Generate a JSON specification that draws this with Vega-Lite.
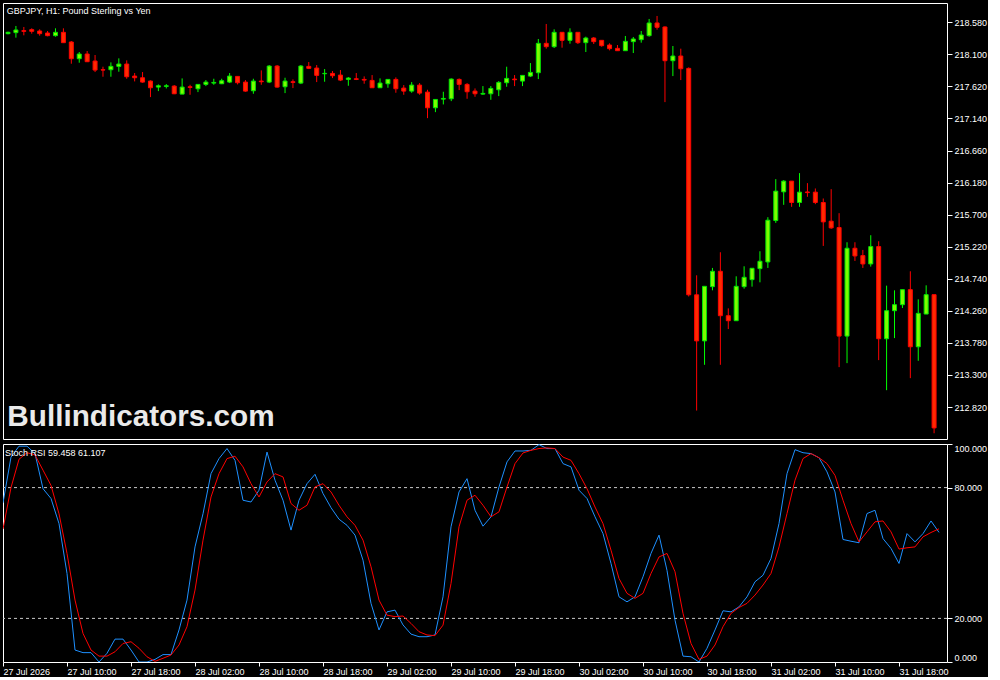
{
  "$schema": "https://vega.github.io/schema/vega-lite/v6.json",
  "background": "#000000",
  "padding": {"left": 2, "top": 2, "right": 0, "bottom": 0},
  "config": {
    "view": {"stroke": "#ffffff", "strokeWidth": 1, "fill": "#000000"},
    "concat": {"spacing": 3},
    "axis": {"labelFont": "Liberation Sans", "labelFontSize": 9, "labelColor": "#ffffff", "tickColor": "#ffffff", "domain": false, "grid": false, "title": null, "labelOverlap": false},
    "axisY": {"labelOverlap": false, "labelBound": false}
  },
  "datasets": {
    "bars": [
      {"t":"2026-07-27T02:00","o":218.41,"h":218.44,"l":218.40,"c":218.43,"k":73,"d":61},
      {"t":"2026-07-27T03:00","o":218.425,"h":218.525,"l":218.35,"c":218.465,"k":94,"d":80},
      {"t":"2026-07-27T04:00","o":218.455,"h":218.51,"l":218.385,"c":218.445,"k":99,"d":93},
      {"t":"2026-07-27T05:00","o":218.47,"h":218.49,"l":218.41,"c":218.445,"k":99,"d":96},
      {"t":"2026-07-27T06:00","o":218.45,"h":218.475,"l":218.38,"c":218.41,"k":95.6,"d":95},
      {"t":"2026-07-27T07:00","o":218.42,"h":218.45,"l":218.37,"c":218.38,"k":79.5,"d":88},
      {"t":"2026-07-27T08:00","o":218.38,"h":218.49,"l":218.365,"c":218.43,"k":75,"d":81},
      {"t":"2026-07-27T09:00","o":218.43,"h":218.49,"l":218.275,"c":218.275,"k":63.5,"d":68},
      {"t":"2026-07-27T10:00","o":218.285,"h":218.30,"l":217.96,"c":218.035,"k":40.6,"d":49.8},
      {"t":"2026-07-27T11:00","o":218.035,"h":218.135,"l":217.975,"c":218.105,"k":5.5,"d":28.4},
      {"t":"2026-07-27T12:00","o":218.105,"h":218.15,"l":217.985,"c":217.99,"k":4.3,"d":13.1},
      {"t":"2026-07-27T13:00","o":218.00,"h":218.09,"l":217.835,"c":217.865,"k":4.3,"d":5.5},
      {"t":"2026-07-27T14:00","o":217.87,"h":217.915,"l":217.765,"c":217.865,"k":0,"d":2.7},
      {"t":"2026-07-27T15:00","o":217.87,"h":217.98,"l":217.765,"c":217.92,"k":4,"d":2.7},
      {"t":"2026-07-27T16:00","o":217.92,"h":218.04,"l":217.84,"c":217.955,"k":10.5,"d":4.7},
      {"t":"2026-07-27T17:00","o":217.955,"h":218.01,"l":217.735,"c":217.765,"k":10.5,"d":8.5},
      {"t":"2026-07-27T18:00","o":217.775,"h":217.82,"l":217.695,"c":217.75,"k":5.5,"d":9.3},
      {"t":"2026-07-27T19:00","o":217.75,"h":217.835,"l":217.675,"c":217.685,"k":0,"d":6.3},
      {"t":"2026-07-27T20:00","o":217.70,"h":217.71,"l":217.46,"c":217.60,"k":0,"d":2.4},
      {"t":"2026-07-27T21:00","o":217.61,"h":217.65,"l":217.55,"c":217.63,"k":1.2,"d":0.3},
      {"t":"2026-07-27T22:00","o":217.62,"h":217.655,"l":217.59,"c":217.63,"k":3.4,"d":1.7},
      {"t":"2026-07-27T23:00","o":217.625,"h":217.64,"l":217.505,"c":217.51,"k":3.4,"d":3.2},
      {"t":"2026-07-28T00:00","o":217.505,"h":217.74,"l":217.505,"c":217.61,"k":14.7,"d":7.8},
      {"t":"2026-07-28T01:00","o":217.615,"h":217.645,"l":217.495,"c":217.605,"k":28.4,"d":16.2},
      {"t":"2026-07-28T02:00","o":217.585,"h":217.65,"l":217.535,"c":217.65,"k":52.8,"d":33},
      {"t":"2026-07-28T03:00","o":217.65,"h":217.715,"l":217.625,"c":217.685,"k":68,"d":55.9},
      {"t":"2026-07-28T04:00","o":217.67,"h":217.735,"l":217.645,"c":217.68,"k":86.4,"d":75.7},
      {"t":"2026-07-28T05:00","o":217.66,"h":217.735,"l":217.655,"c":217.705,"k":93.3,"d":86.4},
      {"t":"2026-07-28T06:00","o":217.685,"h":217.82,"l":217.67,"c":217.775,"k":97.9,"d":93.3},
      {"t":"2026-07-28T07:00","o":217.77,"h":217.77,"l":217.65,"c":217.675,"k":92.5,"d":94.4},
      {"t":"2026-07-28T08:00","o":217.685,"h":217.715,"l":217.54,"c":217.55,"k":74.2,"d":89.5},
      {"t":"2026-07-28T09:00","o":217.555,"h":217.735,"l":217.51,"c":217.70,"k":73.4,"d":81.8},
      {"t":"2026-07-28T10:00","o":217.70,"h":217.86,"l":217.645,"c":217.69,"k":78.8,"d":75.7},
      {"t":"2026-07-28T11:00","o":217.685,"h":217.94,"l":217.67,"c":217.925,"k":96.3,"d":82.6},
      {"t":"2026-07-28T12:00","o":217.925,"h":217.94,"l":217.60,"c":217.61,"k":83.4,"d":86.4},
      {"t":"2026-07-28T13:00","o":217.615,"h":217.75,"l":217.52,"c":217.70,"k":74.2,"d":84.9},
      {"t":"2026-07-28T14:00","o":217.69,"h":217.725,"l":217.595,"c":217.68,"k":60.5,"d":72.7},
      {"t":"2026-07-28T15:00","o":217.67,"h":217.94,"l":217.655,"c":217.925,"k":74.2,"d":69.6},
      {"t":"2026-07-28T16:00","o":217.92,"h":217.985,"l":217.88,"c":217.89,"k":81.8,"d":71.9},
      {"t":"2026-07-28T17:00","o":217.895,"h":217.94,"l":217.685,"c":217.785,"k":86.1,"d":80.3},
      {"t":"2026-07-28T18:00","o":217.81,"h":217.88,"l":217.69,"c":217.815,"k":77.3,"d":81.8},
      {"t":"2026-07-28T19:00","o":217.815,"h":217.85,"l":217.745,"c":217.78,"k":70.8,"d":78},
      {"t":"2026-07-28T20:00","o":217.79,"h":217.865,"l":217.70,"c":217.715,"k":65.5,"d":71.9},
      {"t":"2026-07-28T21:00","o":217.725,"h":217.76,"l":217.63,"c":217.745,"k":62.7,"d":66.6},
      {"t":"2026-07-28T22:00","o":217.735,"h":217.82,"l":217.715,"c":217.725,"k":58.2,"d":62.7},
      {"t":"2026-07-28T23:00","o":217.725,"h":217.77,"l":217.66,"c":217.715,"k":46.7,"d":55.9},
      {"t":"2026-07-29T00:00","o":217.71,"h":217.79,"l":217.60,"c":217.60,"k":26.9,"d":43.7},
      {"t":"2026-07-29T01:00","o":217.60,"h":217.74,"l":217.60,"c":217.67,"k":14.7,"d":28.4},
      {"t":"2026-07-29T02:00","o":217.66,"h":217.725,"l":217.60,"c":217.725,"k":23,"d":21.5},
      {"t":"2026-07-29T03:00","o":217.725,"h":217.755,"l":217.525,"c":217.585,"k":23.8,"d":20.8},
      {"t":"2026-07-29T04:00","o":217.595,"h":217.64,"l":217.495,"c":217.55,"k":17,"d":21.1},
      {"t":"2026-07-29T05:00","o":217.55,"h":217.685,"l":217.525,"c":217.64,"k":12.8,"d":17.7},
      {"t":"2026-07-29T06:00","o":217.64,"h":217.67,"l":217.495,"c":217.52,"k":11.6,"d":13.9},
      {"t":"2026-07-29T07:00","o":217.535,"h":217.57,"l":217.145,"c":217.30,"k":11.6,"d":12.4},
      {"t":"2026-07-29T08:00","o":217.30,"h":217.425,"l":217.235,"c":217.425,"k":12.4,"d":12.1},
      {"t":"2026-07-29T09:00","o":217.43,"h":217.54,"l":217.35,"c":217.44,"k":29.9,"d":16.9},
      {"t":"2026-07-29T10:00","o":217.435,"h":217.74,"l":217.40,"c":217.73,"k":62,"d":36},
      {"t":"2026-07-29T11:00","o":217.725,"h":217.74,"l":217.565,"c":217.65,"k":78,"d":62},
      {"t":"2026-07-29T12:00","o":217.65,"h":217.67,"l":217.435,"c":217.54,"k":84.1,"d":74.2},
      {"t":"2026-07-29T13:00","o":217.55,"h":217.59,"l":217.465,"c":217.51,"k":69.6,"d":76.5},
      {"t":"2026-07-29T14:00","o":217.505,"h":217.625,"l":217.495,"c":217.515,"k":62.3,"d":71.9},
      {"t":"2026-07-29T15:00","o":217.51,"h":217.625,"l":217.42,"c":217.59,"k":66.6,"d":66.6},
      {"t":"2026-07-29T16:00","o":217.57,"h":217.70,"l":217.475,"c":217.68,"k":80.3,"d":68.9},
      {"t":"2026-07-29T17:00","o":217.675,"h":217.915,"l":217.615,"c":217.74,"k":91.8,"d":80.3},
      {"t":"2026-07-29T18:00","o":217.73,"h":217.79,"l":217.625,"c":217.72,"k":96.8,"d":91},
      {"t":"2026-07-29T19:00","o":217.70,"h":217.785,"l":217.625,"c":217.785,"k":96.8,"d":95.9},
      {"t":"2026-07-29T20:00","o":217.775,"h":217.97,"l":217.76,"c":217.83,"k":97.1,"d":97.1},
      {"t":"2026-07-29T21:00","o":217.825,"h":218.33,"l":217.73,"c":218.265,"k":99.7,"d":97.9},
      {"t":"2026-07-29T22:00","o":218.265,"h":218.555,"l":218.185,"c":218.215,"k":97.9,"d":98.2},
      {"t":"2026-07-29T23:00","o":218.215,"h":218.475,"l":218.195,"c":218.43,"k":97.9,"d":97.9},
      {"t":"2026-07-30T00:00","o":218.43,"h":218.43,"l":218.20,"c":218.31,"k":91,"d":94},
      {"t":"2026-07-30T01:00","o":218.31,"h":218.49,"l":218.26,"c":218.43,"k":89.5,"d":92.5},
      {"t":"2026-07-30T02:00","o":218.43,"h":218.43,"l":218.255,"c":218.275,"k":78.8,"d":86.4},
      {"t":"2026-07-30T03:00","o":218.275,"h":218.365,"l":218.135,"c":218.345,"k":75,"d":79.5},
      {"t":"2026-07-30T04:00","o":218.345,"h":218.36,"l":218.255,"c":218.29,"k":66.6,"d":71.1},
      {"t":"2026-07-30T05:00","o":218.31,"h":218.31,"l":218.215,"c":218.23,"k":58.9,"d":63.5},
      {"t":"2026-07-30T06:00","o":218.24,"h":218.265,"l":218.16,"c":218.185,"k":45.2,"d":51.3},
      {"t":"2026-07-30T07:00","o":218.19,"h":218.24,"l":218.155,"c":218.155,"k":29.9,"d":38.3},
      {"t":"2026-07-30T08:00","o":218.155,"h":218.375,"l":218.155,"c":218.295,"k":27.6,"d":31.5},
      {"t":"2026-07-30T09:00","o":218.29,"h":218.36,"l":218.12,"c":218.33,"k":29.9,"d":29.2},
      {"t":"2026-07-30T10:00","o":218.32,"h":218.45,"l":218.275,"c":218.39,"k":39.1,"d":31.5},
      {"t":"2026-07-30T11:00","o":218.38,"h":218.63,"l":218.365,"c":218.57,"k":49.8,"d":40.6},
      {"t":"2026-07-30T12:00","o":218.57,"h":218.675,"l":218.47,"c":218.505,"k":58.2,"d":48.2},
      {"t":"2026-07-30T13:00","o":218.51,"h":218.52,"l":217.385,"c":218.005,"k":42,"d":49.8},
      {"t":"2026-07-30T14:00","o":218.005,"h":218.225,"l":217.775,"c":218.075,"k":19.2,"d":41.4},
      {"t":"2026-07-30T15:00","o":218.075,"h":218.185,"l":217.715,"c":217.885,"k":2.7,"d":22.3},
      {"t":"2026-07-30T16:00","o":217.89,"h":217.905,"l":214.475,"c":214.50,"k":2.4,"d":8.5},
      {"t":"2026-07-30T17:00","o":214.50,"h":214.792,"l":212.767,"c":213.81,"k":0,"d":1.2},
      {"t":"2026-07-30T18:00","o":213.81,"h":214.627,"l":213.452,"c":214.627,"k":6.3,"d":2.7},
      {"t":"2026-07-30T19:00","o":214.622,"h":214.902,"l":214.567,"c":214.852,"k":14.7,"d":7.8},
      {"t":"2026-07-30T20:00","o":214.852,"h":215.137,"l":213.452,"c":214.187,"k":23.5,"d":16.2},
      {"t":"2026-07-30T21:00","o":214.187,"h":214.297,"l":213.987,"c":214.112,"k":23,"d":22.3},
      {"t":"2026-07-30T22:00","o":214.112,"h":214.777,"l":214.112,"c":214.627,"k":25.3,"d":25},
      {"t":"2026-07-30T23:00","o":214.622,"h":214.927,"l":214.592,"c":214.762,"k":29.9,"d":26.9},
      {"t":"2026-07-31T00:00","o":214.727,"h":214.897,"l":214.622,"c":214.897,"k":36.8,"d":30.7},
      {"t":"2026-07-31T01:00","o":214.892,"h":215.152,"l":214.687,"c":215.002,"k":39.8,"d":35.3},
      {"t":"2026-07-31T02:00","o":214.992,"h":215.662,"l":214.902,"c":215.617,"k":47.5,"d":40.6},
      {"t":"2026-07-31T03:00","o":215.612,"h":216.232,"l":215.577,"c":216.052,"k":63.5,"d":52.8},
      {"t":"2026-07-31T04:00","o":216.042,"h":216.217,"l":215.847,"c":216.202,"k":86.4,"d":68.1},
      {"t":"2026-07-31T05:00","o":216.202,"h":216.202,"l":215.817,"c":215.882,"k":97.4,"d":83.4},
      {"t":"2026-07-31T06:00","o":215.882,"h":216.322,"l":215.817,"c":216.037,"k":96,"d":93.3},
      {"t":"2026-07-31T07:00","o":216.04,"h":216.172,"l":215.967,"c":216.03,"k":95.6,"d":95.6},
      {"t":"2026-07-31T08:00","o":216.037,"h":216.092,"l":215.857,"c":215.882,"k":93.7,"d":93.7},
      {"t":"2026-07-31T09:00","o":215.882,"h":215.942,"l":215.232,"c":215.592,"k":87.2,"d":91},
      {"t":"2026-07-31T10:00","o":215.602,"h":216.082,"l":215.487,"c":215.502,"k":78,"d":85.6},
      {"t":"2026-07-31T11:00","o":215.507,"h":215.722,"l":213.417,"c":213.882,"k":56.2,"d":74.2},
      {"t":"2026-07-31T12:00","o":213.882,"h":215.287,"l":213.477,"c":215.197,"k":55.4,"d":63.5},
      {"t":"2026-07-31T13:00","o":215.197,"h":215.287,"l":215.007,"c":215.082,"k":54.7,"d":55.1},
      {"t":"2026-07-31T14:00","o":215.087,"h":215.172,"l":214.902,"c":214.962,"k":68.1,"d":59.7},
      {"t":"2026-07-31T15:00","o":214.962,"h":215.392,"l":214.922,"c":215.222,"k":69.6,"d":64.3},
      {"t":"2026-07-31T16:00","o":215.222,"h":215.302,"l":213.522,"c":213.842,"k":56.6,"d":64.7},
      {"t":"2026-07-31T17:00","o":213.842,"h":214.637,"l":213.072,"c":214.262,"k":52.1,"d":59.7},
      {"t":"2026-07-31T18:00","o":214.262,"h":214.567,"l":213.852,"c":214.352,"k":45.2,"d":51.8},
      {"t":"2026-07-31T19:00","o":214.352,"h":214.577,"l":214.302,"c":214.577,"k":58.9,"d":52.4},
      {"t":"2026-07-31T20:00","o":214.577,"h":214.852,"l":213.252,"c":213.722,"k":55.1,"d":52.8},
      {"t":"2026-07-31T21:00","o":213.722,"h":214.432,"l":213.512,"c":214.222,"k":58.9,"d":57.4},
      {"t":"2026-07-31T22:00","o":214.212,"h":214.642,"l":214.212,"c":214.502,"k":64.7,"d":59.4},
      {"t":"2026-07-31T23:00","o":214.502,"h":214.502,"l":212.427,"c":212.507,"k":59.458,"d":61.107}
    ],
    "levels": [{"v": 20}, {"v": 80}]
  },
  "vconcat": [
    {
      "width": 944,
      "height": 436,
      "data": {"name": "bars"},
      "layer": [
        {
          "mark": {"type": "rule", "strokeWidth": 1, "clip": true},
          "encoding": {
            "x": {"field": "t", "type": "temporal", "scale": {"domain": [{"year": 2026, "month": 7, "date": 27, "hours": 2}, {"year": 2026, "month": 8, "date": 1, "hours": 0}]}, "axis": null},
            "y": {"field": "l", "type": "quantitative", "scale": {"domain": [212.341, 218.869], "nice": false, "zero": false},
                  "axis": {"orient": "right", "values": [212.82, 213.3, 213.78, 214.26, 214.74, 215.22, 215.7, 216.18, 216.66, 217.14, 217.62, 218.1, 218.58], "tickCount": 30, "format": ".3f", "tickSize": 5, "labelPadding": 2, "labelOverlap": false, "labelBound": false, "title": null}},
            "y2": {"field": "h"},
            "color": {"condition": {"test": "datum.c < datum.o", "value": "#ff0000"}, "value": "#00ff00"}
          }
        },
        {
          "mark": {"type": "bar", "width": 4, "strokeWidth": 1, "clip": true},
          "encoding": {
            "x": {"field": "t", "type": "temporal"},
            "y": {"field": "o", "type": "quantitative"},
            "y2": {"field": "c"},
            "fill": {"condition": {"test": "datum.c < datum.o", "value": "#ff2a00"}, "value": "#7cfc00"},
            "stroke": {"condition": {"test": "datum.c < datum.o", "value": "#ff0000"}, "value": "#00e600"}
          }
        },
        {
          "data": {"values": [{"label": "GBPJPY, H1:  Pound Sterling vs Yen"}]},
          "mark": {"type": "text", "align": "left", "baseline": "alphabetic", "font": "Liberation Sans", "fontSize": 9, "color": "#ffffff"},
          "encoding": {
            "x": {"datum": {"year": 2026, "month": 7, "date": 27, "hours": 1, "minutes": 50}, "type": "temporal"},
            "y": {"datum": 218.705, "type": "quantitative"},
            "text": {"field": "label"}
          }
        },
        {
          "data": {"values": [{"label": "Bullindicators.com"}]},
          "mark": {"type": "text", "align": "left", "baseline": "alphabetic", "font": "Liberation Sans", "fontWeight": "bold", "fontSize": 29.7, "color": "#eaeaea"},
          "encoding": {
            "x": {"datum": {"year": 2026, "month": 7, "date": 27, "hours": 1, "minutes": 55}, "type": "temporal"},
            "y": {"datum": 212.53, "type": "quantitative"},
            "text": {"field": "label"}
          }
        }
      ]
    },
    {
      "width": 944,
      "height": 218,
      "layer": [
        {
          "data": {"name": "levels"},
          "mark": {"type": "rule", "color": "#c8c8c8", "strokeWidth": 1, "strokeDash": [3, 3]},
          "encoding": {
            "y": {"field": "v", "type": "quantitative", "scale": {"domain": [0, 100], "nice": false},
                  "axis": {"orient": "right", "values": [0, 20, 80, 100], "tickCount": 10, "format": ".3f", "tickSize": 5, "labelPadding": 2, "labelFlush": true, "labelFlushOffset": 0, "labelOverlap": false, "title": null}}
          }
        },
        {
          "data": {"name": "bars"},
          "mark": {"type": "line", "color": "#1e90ff", "strokeWidth": 1, "clip": true, "interpolate": "linear"},
          "encoding": {
            "x": {"field": "t", "type": "temporal",
                  "scale": {"domain": [{"year": 2026, "month": 7, "date": 27, "hours": 2}, {"year": 2026, "month": 8, "date": 1, "hours": 0}]},
                  "axis": {"orient": "bottom", "values": [
                    {"year": 2026, "month": 7, "date": 27, "hours": 2}, {"year": 2026, "month": 7, "date": 27, "hours": 10}, {"year": 2026, "month": 7, "date": 27, "hours": 18},
                    {"year": 2026, "month": 7, "date": 28, "hours": 2}, {"year": 2026, "month": 7, "date": 28, "hours": 10}, {"year": 2026, "month": 7, "date": 28, "hours": 18},
                    {"year": 2026, "month": 7, "date": 29, "hours": 2}, {"year": 2026, "month": 7, "date": 29, "hours": 10}, {"year": 2026, "month": 7, "date": 29, "hours": 18},
                    {"year": 2026, "month": 7, "date": 30, "hours": 2}, {"year": 2026, "month": 7, "date": 30, "hours": 10}, {"year": 2026, "month": 7, "date": 30, "hours": 18},
                    {"year": 2026, "month": 7, "date": 31, "hours": 2}, {"year": 2026, "month": 7, "date": 31, "hours": 10}, {"year": 2026, "month": 7, "date": 31, "hours": 18}],
                    "tickCount": 40,
                    "labelExpr": "(date(datum.value) == 27 && hours(datum.value) == 2) ? timeFormat(datum.value, '%d %b %Y') : timeFormat(datum.value, '%d %b %H:%M')",
                    "labelAlign": "left", "labelBaseline": "top", "tickSize": 4, "labelPadding": 1, "labelOverlap": false, "labelFlush": false, "labelBound": false, "title": null}},
            "y": {"field": "k", "type": "quantitative"}
          }
        },
        {
          "data": {"name": "bars"},
          "mark": {"type": "line", "color": "#ff0000", "strokeWidth": 1, "clip": true, "interpolate": "linear"},
          "encoding": {
            "x": {"field": "t", "type": "temporal"},
            "y": {"field": "d", "type": "quantitative"}
          }
        },
        {
          "data": {"values": [{"label": "Stoch RSI 59.458 61.107"}]},
          "mark": {"type": "text", "align": "left", "baseline": "alphabetic", "font": "Liberation Sans", "fontSize": 9, "color": "#ffffff"},
          "encoding": {
            "x": {"datum": {"year": 2026, "month": 7, "date": 27, "hours": 2, "minutes": 15}, "type": "temporal"},
            "y": {"datum": 94.7, "type": "quantitative"},
            "text": {"field": "label"}
          }
        }
      ]
    }
  ]
}
